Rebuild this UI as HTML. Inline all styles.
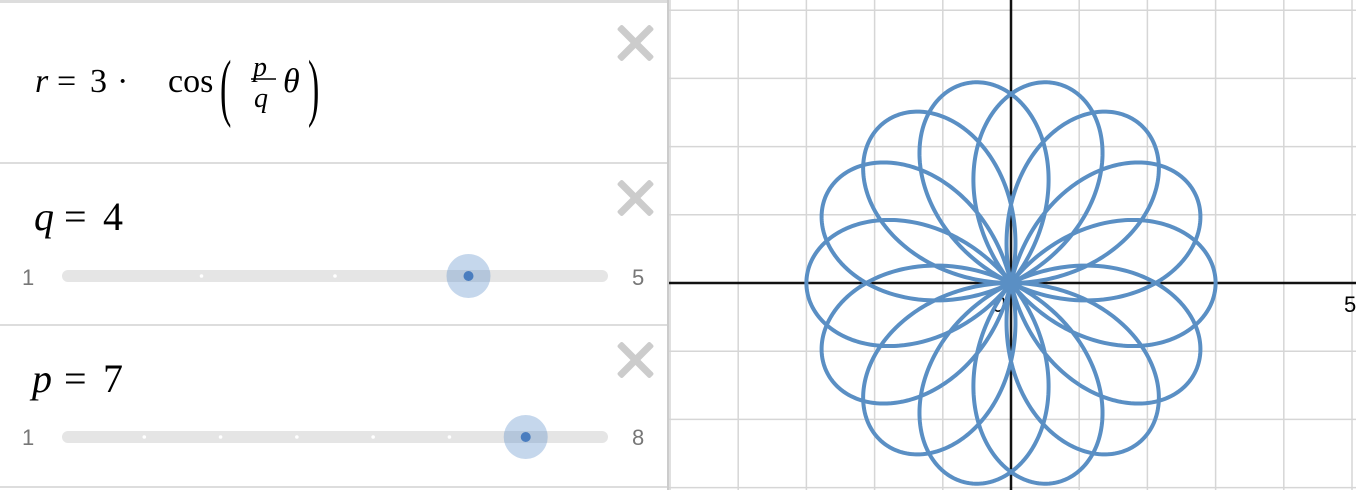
<!DOCTYPE html>
<html><head><meta charset="utf-8"><style>
body{margin:0;width:1356px;height:490px;overflow:hidden;background:#fff;font-family:"Liberation Sans",sans-serif;position:relative}
.panel{position:absolute;left:0;top:0;width:667px;height:490px;border-right:2px solid #ccc;background:#fff}
.row{position:absolute;left:0;width:667px;border-bottom:2px solid #ddd;box-sizing:border-box}
.x{position:absolute;left:615px;width:40px;height:40px}
.x:before,.x:after{content:"";position:absolute;left:17px;top:-3px;width:7px;height:46px;background:#ccc;border-radius:2px;transform:rotate(45deg)}
.x:after{transform:rotate(-45deg)}
.track{position:absolute;left:62px;width:546px;height:12px;background:#e5e5e5;border-radius:6px}
.lab{position:absolute;font-size:22px;color:#777}
svg text{font-family:"Liberation Serif",serif}
</style></head><body>
<div class="panel">
 <div class="row" style="top:0;height:164px;border-top:3px solid #ddd">
  <div class="x" style="top:20px"></div>
  <svg style="position:absolute;left:0;top:-3px" width="600" height="160">
   <text x="35" y="92" font-size="34" font-style="italic">r</text>
   <text x="57" y="92" font-size="34">=</text>
   <text x="90" y="92" font-size="34">3</text>
   <text x="117" y="92" font-size="34">·</text>
   <text x="168" y="92" font-size="34">cos</text>
   <text x="220" y="112" font-size="34" transform="translate(220,112) scale(1,2.2) translate(-220,-112)" >(</text>
   <text x="253" y="76" font-size="28" font-style="italic">p</text>
   <line x1="251" x2="276" y1="79" y2="79" stroke="#000" stroke-width="1.5"/>
   <text x="254" y="107" font-size="28" font-style="italic">q</text>
   <text x="283" y="92" font-size="34" font-style="italic">θ</text>
   <text x="308" y="112" font-size="34" transform="translate(308,112) scale(1,2.2) translate(-308,-112)">)</text>
  </svg>
 </div>
 <div class="row" style="top:164px;height:162px">
  <div class="x" style="top:14px"></div>
  <svg style="position:absolute;left:0;top:0" width="300" height="90">
   <text x="34" y="66" font-size="40" font-style="italic">q</text>
   <text x="64" y="66" font-size="40">=</text>
   <text x="103" y="66" font-size="40">4</text>
  </svg>
  <div class="lab" style="left:22px;top:101px">1</div>
  <div class="lab" style="left:632px;top:101px">5</div>
  <div class="track" style="top:106px"></div>
  <svg id="sq" style="position:absolute;left:0;top:80px" width="667" height="64"></svg>
 </div>
 <div class="row" style="top:326px;height:162px">
  <div class="x" style="top:14px"></div>
  <svg style="position:absolute;left:0;top:0" width="300" height="90">
   <text x="32" y="66" font-size="40" font-style="italic">p</text>
   <text x="64" y="66" font-size="40">=</text>
   <text x="103" y="66" font-size="40">7</text>
  </svg>
  <div class="lab" style="left:22px;top:99px">1</div>
  <div class="lab" style="left:632px;top:99px">8</div>
  <div class="track" style="top:105px"></div>
  <svg id="sp" style="position:absolute;left:0;top:79px" width="667" height="64"></svg>
 </div>
</div>
<svg id="g" style="position:absolute;left:669px;top:0" width="687" height="490"></svg>
<script>
const amplitude=[3];
const qVal=[4], qRange=[1,5];
const pVal=[7], pRange=[1,8];
const xTickLabels=["0","5"];
const NS="http://www.w3.org/2000/svg";
function mk(t,a,parent){const e=document.createElementNS(NS,t);for(const k in a)e.setAttribute(k,a[k]);parent.appendChild(e);return e;}
function slider(svg,val,range,name){
  const x0=68,x1=602,cy=32;
  const sx=v=>x0+(v-range[0])/(range[1]-range[0])*(x1-x0);
  for(let v=range[0]+1;v<range[1];v++){const d=mk('circle',{cx:sx(v),cy:cy,r:1.8,fill:'#fff'},svg);
    
    }
  const h=mk('circle',{cx:sx(val),cy:cy,r:22,fill:'rgba(90,140,200,0.35)'},svg);
  
  
  const d=mk('circle',{cx:sx(val),cy:cy,r:5,fill:'#4a7dbf'},svg);
  
  
}
slider(document.getElementById('sq'),qVal[0],qRange,'q');
slider(document.getElementById('sp'),pVal[0],pRange,'p');
const g=document.getElementById('g');
const ox=342,oy=283,u=68.2;
const X=v=>ox+v*u,Y=v=>oy-v*u;
for(let i=-6;i<=6;i++){if(i===0)continue;
  const l=mk('line',{x1:X(i),x2:X(i),y1:0,y2:490,stroke:'#d6d6d6','stroke-width':1.5},g);
  
  }
for(let i=-4;i<=5;i++){if(i===0)continue;
  const l=mk('line',{x1:0,x2:687,y1:Y(i),y2:Y(i),stroke:'#d6d6d6','stroke-width':1.5},g);
  
  }
const ax=mk('line',{x1:0,x2:687,y1:oy,y2:oy,stroke:'#111','stroke-width':2.5},g);


const ay=mk('line',{x1:ox,x2:ox,y1:0,y2:490,stroke:'#111','stroke-width':2.5},g);


const t0=mk('text',{x:ox-6,y:oy+29,'text-anchor':'end','font-size':22,'font-style':'italic',style:'font-family:Liberation Sans, sans-serif',fill:'#000'},g);
t0.textContent=xTickLabels[0];


const t5=mk('text',{x:X(5)-8,y:oy+29,'font-size':22,style:'font-family:Liberation Sans, sans-serif',fill:'#000'},g);
t5.textContent=xTickLabels[1];


const k=pVal[0]/qVal[0];let d='';const N=3000,T=8*Math.PI;
for(let i=0;i<=N;i++){const th=T*i/N,r=amplitude[0]*Math.cos(k*th);
  d+=(i?'L':'M')+X(r*Math.cos(th)).toFixed(2)+' '+Y(r*Math.sin(th)).toFixed(2);}
const c=mk('path',{d:d,fill:'none',stroke:'#5a8fc4','stroke-width':4,'stroke-linejoin':'round'},g);


</script>
</body></html>
